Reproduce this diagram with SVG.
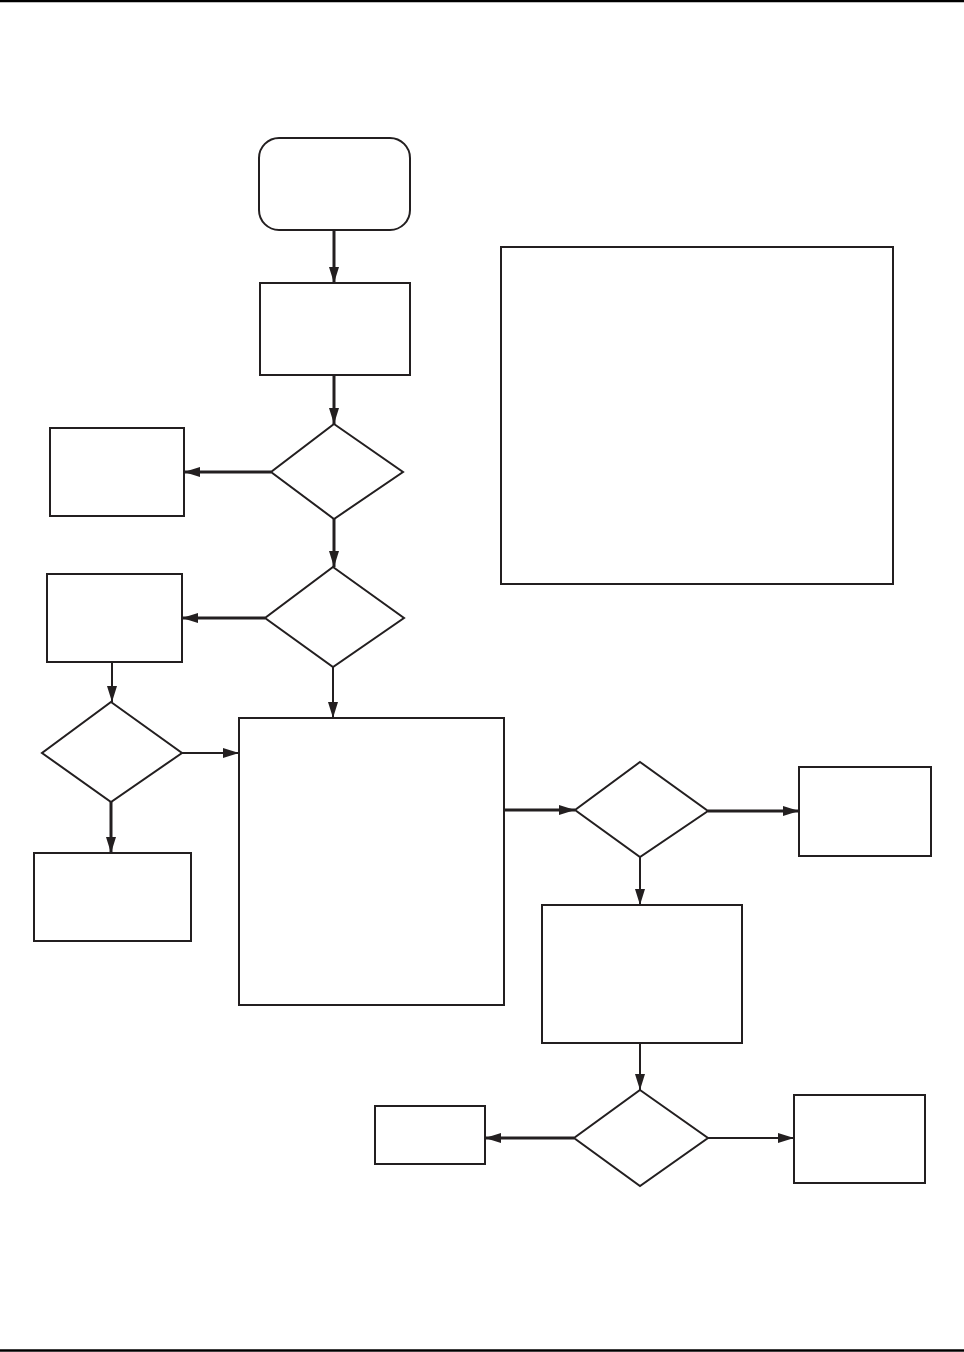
<svg xmlns="http://www.w3.org/2000/svg" width="964" height="1352" viewBox="0 0 964 1352">
<style>
.n{fill:#fff;stroke:#231f20;stroke-width:2}
.c{fill:none;stroke:#231f20}
.t{stroke-width:3}
.s{stroke-width:2}
.rule{stroke:#000;stroke-width:2.5}
</style>
<defs>
<marker id="ah" markerUnits="userSpaceOnUse" markerWidth="16" markerHeight="10" refX="16" refY="5" orient="auto" viewBox="0 0 16 10">
<path d="M0,0 L16,5 L0,10 z" fill="#231f20"/>
</marker>
</defs>
<rect width="964" height="1352" fill="#fff"/>
<line class="rule" x1="0" y1="1" x2="964" y2="1"/>
<line class="rule" x1="0" y1="1350.5" x2="964" y2="1350.5"/>
<g id="start"><rect class="n" x="259" y="138" width="151" height="92" rx="20"/></g>
<g id="box1"><rect class="n" x="260" y="283" width="150" height="92"/></g>
<g id="d1"><polygon class="n" points="334,424 403,472 334,519 271,472"/></g>
<g id="left1"><rect class="n" x="50" y="428" width="134" height="88"/></g>
<g id="d2"><polygon class="n" points="333,567 404,618 333,667 265,618"/></g>
<g id="left2"><rect class="n" x="47" y="574" width="135" height="88"/></g>
<g id="d3"><polygon class="n" points="111,702 182,753 111,802 42,753"/></g>
<g id="left3"><rect class="n" x="34" y="853" width="157" height="88"/></g>
<g id="big"><rect class="n" x="239" y="718" width="265" height="287"/></g>
<g id="note"><rect class="n" x="501" y="247" width="392" height="337"/></g>
<g id="d4"><polygon class="n" points="640,762 708,811 640,857 575,810"/></g>
<g id="right1"><rect class="n" x="799" y="767" width="132" height="89"/></g>
<g id="mid"><rect class="n" x="542" y="905" width="200" height="138"/></g>
<g id="d5"><polygon class="n" points="640,1090 708,1138 640,1186 574,1138"/></g>
<g id="lowleft"><rect class="n" x="375" y="1106" width="110" height="58"/></g>
<g id="right3"><rect class="n" x="794" y="1095" width="131" height="88"/></g>
<g id="connectors">
<line class="c t" x1="334" y1="230" x2="334" y2="283" marker-end="url(#ah)"/>
<line class="c t" x1="334" y1="375" x2="334" y2="424" marker-end="url(#ah)"/>
<line class="c t" x1="271" y1="472" x2="184" y2="472" marker-end="url(#ah)"/>
<line class="c t" x1="334" y1="519" x2="334" y2="567" marker-end="url(#ah)"/>
<line class="c t" x1="265" y1="618" x2="182" y2="618" marker-end="url(#ah)"/>
<line class="c s" x1="112" y1="662" x2="112" y2="702" marker-end="url(#ah)"/>
<line class="c s" x1="182" y1="753" x2="239" y2="753" marker-end="url(#ah)"/>
<line class="c t" x1="111" y1="802" x2="111" y2="853" marker-end="url(#ah)"/>
<line class="c s" x1="333" y1="667" x2="333" y2="718" marker-end="url(#ah)"/>
<line class="c t" x1="504" y1="810" x2="575" y2="810" marker-end="url(#ah)"/>
<line class="c t" x1="708" y1="811" x2="799" y2="811" marker-end="url(#ah)"/>
<line class="c s" x1="640" y1="857" x2="640" y2="905" marker-end="url(#ah)"/>
<line class="c s" x1="640" y1="1043" x2="640" y2="1090" marker-end="url(#ah)"/>
<line class="c t" x1="574" y1="1138" x2="485" y2="1138" marker-end="url(#ah)"/>
<line class="c s" x1="708" y1="1138" x2="794" y2="1138" marker-end="url(#ah)"/>
</g>
</svg>
